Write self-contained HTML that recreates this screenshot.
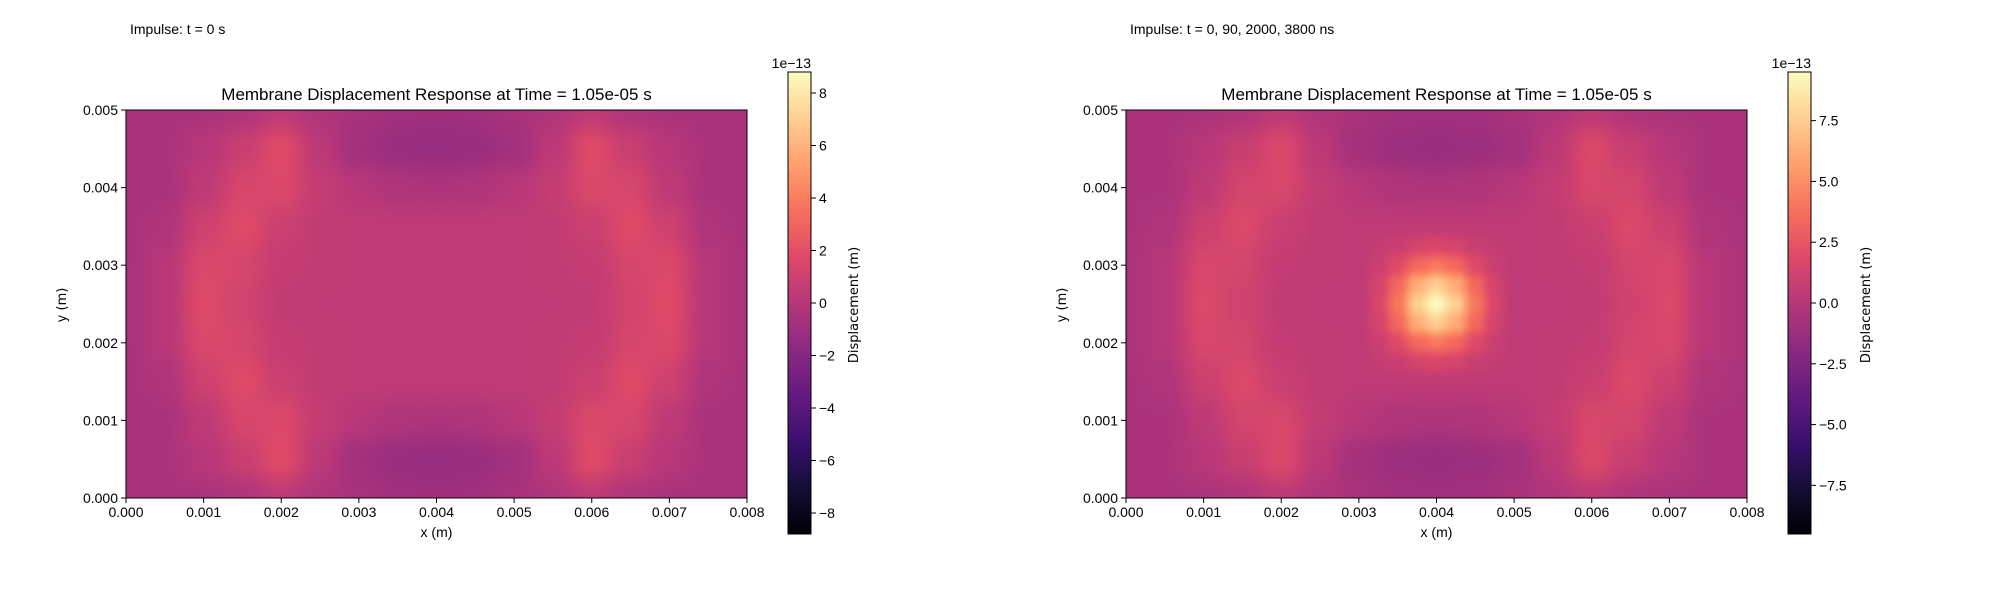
<!DOCTYPE html>
<html><head><meta charset="utf-8"><style>
html,body{margin:0;padding:0;background:#fff;width:2000px;height:600px;overflow:hidden}
#root{position:relative;width:2000px;height:600px}
canvas{position:absolute}
svg{position:absolute;left:0;top:0}
</style></head><body>
<div id="root">
<canvas id="c0" width="621" height="388" style="left:126px;top:110px"></canvas>
<canvas id="c1" width="621" height="388" style="left:1126px;top:110px"></canvas>
<svg id="svg" width="2000" height="600"></svg>
</div>
<script>
const xGrid = [0,0.5,1,1.5,2,2.5,3,3.5,4,4.5,5,5.5,6,6.5,7,7.5,8];
const yGrid = [5,4.5,4,3.5,3,2.5,2,1.5,1,0.5,0];
const baseField = [
 [-0.5,-0.5,-0.5,-0.3,0.3,-0.3,-0.6,-0.9,-1.0,-0.9,-0.6,-0.3,0.3,-0.3,-0.5,-0.5,-0.5],
 [-0.5,-0.5,0.0,0.8,1.8,0.2,-0.8,-1.2,-1.3,-1.2,-0.8,0.2,1.8,0.8,0.0,-0.5,-0.5],
 [-0.5,-0.5,0.3,1.4,1.6,0.6,0.0,-0.3,-0.4,-0.3,0.0,0.6,1.6,1.4,0.3,-0.5,-0.5],
 [-0.5,-0.3,1.0,1.8,0.9,0.5,0.4,0.4,0.4,0.4,0.4,0.5,0.9,1.8,1.0,-0.3,-0.5],
 [-0.5,0.0,1.6,1.4,0.6,0.5,0.4,0.4,0.4,0.4,0.4,0.5,0.6,1.4,1.6,0.0,-0.5],
 [-0.5,0.0,1.8,1.2,0.5,0.4,0.4,0.4,0.4,0.4,0.4,0.4,0.5,1.2,1.8,0.0,-0.5],
 [-0.5,0.0,1.6,1.4,0.6,0.5,0.4,0.4,0.4,0.4,0.4,0.5,0.6,1.4,1.6,0.0,-0.5],
 [-0.5,-0.3,1.0,1.8,0.9,0.5,0.4,0.4,0.4,0.4,0.4,0.5,0.9,1.8,1.0,-0.3,-0.5],
 [-0.5,-0.5,0.3,1.4,1.6,0.6,0.0,-0.3,-0.4,-0.3,0.0,0.6,1.6,1.4,0.3,-0.5,-0.5],
 [-0.5,-0.5,0.0,0.8,1.8,0.2,-0.8,-1.2,-1.3,-1.2,-0.8,0.2,1.8,0.8,0.0,-0.5,-0.5],
 [-0.5,-0.5,-0.5,-0.3,0.3,-0.3,-0.6,-0.9,-1.0,-0.9,-0.6,-0.3,0.3,-0.3,-0.5,-0.5,-0.5]
];
const blobOffsets = [-1.0,-0.75,-0.5,-0.25,0,0.25,0.5,0.75,1.0];
const blobCenter = [4, 2.5];
const blobField = [
 [0,0,0,0,0,0,0,0,0],
 [0,0.2,0.5,1.0,1.2,1.0,0.5,0.2,0],
 [0,0.5,1.5,3.0,3.7,3.0,1.5,0.5,0],
 [0,1.0,3.0,5.8,7.2,5.8,3.0,1.0,0],
 [0,1.2,3.7,7.2,9.0,7.2,3.7,1.2,0],
 [0,1.0,3.0,5.8,7.2,5.8,3.0,1.0,0],
 [0,0.5,1.5,3.0,3.7,3.0,1.5,0.5,0],
 [0,0.2,0.5,1.0,1.2,1.0,0.5,0.2,0],
 [0,0,0,0,0,0,0,0,0]
];
const xTicks = ["0.000","0.001","0.002","0.003","0.004","0.005","0.006","0.007","0.008"];
const yTicks = ["0.000","0.001","0.002","0.003","0.004","0.005"];
const cbTicksLeft = [-8,-6,-4,-2,0,2,4,6,8];
const cbTicksRight = [-7.5,-5.0,-2.5,0.0,2.5,5.0,7.5];
const cbRange = [8.8, 9.5];
const subtitles = ["Impulse: t = 0 s","Impulse: t = 0, 90, 2000, 3800 ns"];

const magma = [[0,0,4],[20,14,54],[59,15,112],[100,26,128],[140,41,129],[183,55,121],[222,73,104],[247,112,92],[254,159,109],[254,207,146],[252,253,191]];
function cmap(t){t=Math.max(0,Math.min(1,t));const s=t*10;const i=Math.min(9,Math.floor(s));const f=s-i;const a=magma[i],b=magma[i+1];return [a[0]+(b[0]-a[0])*f,a[1]+(b[1]-a[1])*f,a[2]+(b[2]-a[2])*f];}
function interp(grid,xs,ys,x,y){
  let i=0;while(i<xs.length-2&&x>xs[i+1])i++;
  let j=0;const desc=ys[0]>ys[ys.length-1];
  if(desc){while(j<ys.length-2&&y<ys[j+1])j++;}else{while(j<ys.length-2&&y>ys[j+1])j++;}
  let fx=(x-xs[i])/(xs[i+1]-xs[i]), fy=(y-ys[j])/(ys[j+1]-ys[j]);
  fx=fx*fx*(3-2*fx); fy=fy*fy*(3-2*fy);
  const a=grid[j][i],b=grid[j][i+1],c=grid[j+1][i],d=grid[j+1][i+1];
  return a*(1-fx)*(1-fy)+b*fx*(1-fy)+c*(1-fx)*fy+d*fx*fy;
}
const W=621,H=388;
function xData(px){return px/W*8;}
function yData(py){return 5-py/H*5;}
function drawPanel(id,withBlob,range){
  const ctx=document.getElementById(id).getContext('2d');
  const img=ctx.createImageData(W,H);
  const n=blobOffsets.length;
  const bx=blobOffsets.map(o=>o+blobCenter[0]);
  const by=blobOffsets.map(o=>blobCenter[1]-o);
  for(let py=0;py<H;py++){for(let px=0;px<W;px++){
    const x=xData(px+0.5),y=yData(py+0.5);
    let v=interp(baseField,xGrid,yGrid,x,y);
    if(withBlob&&x>=bx[0]&&x<=bx[n-1]&&y<=by[0]&&y>=by[n-1]){v+=interp(blobField,bx,by,x,y);}
    const c=cmap((v+range)/(2*range));const k=(py*W+px)*4;
    img.data[k]=c[0];img.data[k+1]=c[1];img.data[k+2]=c[2];img.data[k+3]=255;}}
  ctx.putImageData(img,0,0);
}
drawPanel('c0',false,cbRange[0]);
drawPanel('c1',true,cbRange[1]);

const NS="http://www.w3.org/2000/svg";
const svg=document.getElementById('svg');
function el(tag,attrs,parent,text){const e=document.createElementNS(NS,tag);for(const k in attrs)e.setAttribute(k,attrs[k]);if(text!==undefined)e.textContent=text;(parent||svg).appendChild(e);return e;}
const FONT='"Liberation Sans", "DejaVu Sans", sans-serif';
const DJ='"DejaVu Sans", sans-serif';
[0,1].forEach(p=>{
  const ox=p*1000;
  const g=el('g',{});
  
  
  const L=126+ox,R=747+ox,T=110,B=498;
  const sx=v=>L+(R-L)*v/8, sy=v=>B-(B-T)*v/5;
  const fr=el('rect',{x:L,y:T,width:R-L,height:B-T,fill:'none',stroke:'#000','stroke-width':1},g);
  
  xTicks.forEach((t,i)=>{const x=sx(i);el('line',{x1:x,x2:x,y1:B,y2:B+5,stroke:'#000'},g);
    const tx=el('text',{x:x,y:B+19,'font-size':14,'font-family':FONT,'text-anchor':'middle'},g,t);
    });
  yTicks.forEach((t,i)=>{const y=sy(i);el('line',{x1:L-5,x2:L,y1:y,y2:y,stroke:'#000'},g);
    const tx=el('text',{x:L-8,y:y+5,'font-size':14,'font-family':FONT,'text-anchor':'end'},g,t);
    });
  const ttl=el('text',{x:(L+R)/2,y:100,'font-size':17,'font-family':FONT,'text-anchor':'middle'},g,'Membrane Displacement Response at Time = 1.05e-05 s');
  
  const xl=el('text',{x:(L+R)/2,y:537,'font-size':14,'font-family':FONT,'text-anchor':'middle'},g,'x (m)');
  
  const yl=el('text',{x:0,y:0,'font-size':13,'font-family':DJ,'text-anchor':'middle',transform:`translate(${66+ox},305) rotate(-90)`},g,'y (m)');
  
  const st=el('text',{x:130+ox,y:34,'font-size':14,'font-family':FONT},g,subtitles[p]);
  
  const cL=788+ox,cR=811+ox,cT=72,cB=534;
  const gid='grad'+p;
  const defs=el('defs',{},g);const lg=el('linearGradient',{id:gid,x1:0,y1:1,x2:0,y2:0},defs);
  magma.forEach((c,i)=>el('stop',{offset:i/10,'stop-color':`rgb(${c[0]},${c[1]},${c[2]})`},lg));
  const cb=el('rect',{x:cL,y:cT,width:cR-cL,height:cB-cT,fill:`url(#${gid})`,stroke:'#000','stroke-width':1},g);
  
  const rng=cbRange[p];const cy=v=>cB-(cB-cT)*(v+rng)/(2*rng);
  (p?cbTicksRight:cbTicksLeft).forEach(v=>{const y=cy(v);el('line',{x1:cR,x2:cR+5,y1:y,y2:y,stroke:'#000'},g);
    const s=(p?v.toFixed(1):String(v)).replace('-','\u2212');
    const tx=el('text',{x:cR+8,y:y+5,'font-size':14,'font-family':FONT},g,s);
    });
  const ex=el('text',{x:cR,y:68,'font-size':14,'font-family':FONT,'text-anchor':'end'},g,'1e\u221213');
  
  const cl=el('text',{x:0,y:0,'font-size':13,'font-family':DJ,'text-anchor':'middle',transform:`translate(${(p?870:858)+ox},305) rotate(-90)`},g,'Displacement (m)');
  
});
</script>
</body></html>
